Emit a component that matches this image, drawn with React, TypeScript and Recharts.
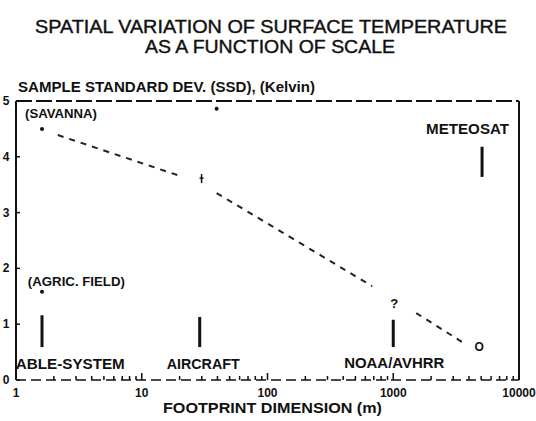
import { ComposedChart, XAxis, YAxis, Line, Scatter, ReferenceLine } from 'recharts';

// footprint dimension (m), log axis
const X_TICKS = [1, 10, 100, 1000, 10000];
const X_MINOR = [
  2, 3, 4, 5, 6, 7, 8, 9,
  20, 30, 40, 50, 60, 70, 80, 90,
  200, 300, 400, 500, 600, 700, 800, 900,
  2000, 3000, 4000, 5000, 6000, 7000, 8000, 9000,
];
const Y_TICKS = [0, 1, 2, 3, 4, 5];

// sample standard deviation (K)
const DOTS = [
  { x: 1.61, y: 4.5 },  // savanna
  { x: 1.61, y: 1.58 }, // agric. field
  { x: 39.4, y: 4.86 },
];
const TREND_A = [
  { x: 2.15, y: 4.39 },
  { x: 21.2, y: 3.64 },
];
const TREND_B = [
  { x: 39.4, y: 3.35 },
  { x: 681, y: 1.68 },
];
const TREND_C = [
  { x: 1523, y: 1.2 },
  { x: 3530, y: 0.68 },
];
const CROSS = [{ x: 29.9, y: 3.6 }];

// sensor range bars
const BARS = [
  { x: 1.61, from: 1.16, to: 0.59 },
  { x: 28.9, from: 1.13, to: 0.59 },
  { x: 1000, from: 1.08, to: 0.59 },
  { x: 5084, from: 4.18, to: 3.64 },
];

const LABELS = [
  { id: 'sav', x: 2.28, y: 4.78, text: '(SAVANNA)' },
  { id: 'met', x: 3900, y: 4.5, text: 'METEOSAT' },
  { id: 'agr', x: 3.02, y: 1.76, text: '(AGRIC. FIELD)' },
  { id: 'cab', x: 7.33, y: 0.29, text: 'CABLE-SYSTEM' },
  { id: 'air', x: 30.8, y: 0.29, text: 'AIRCRAFT' },
  { id: 'noa', x: 1018, y: 0.3, text: 'NOAA/AVHRR' },
  { id: 'q', x: 1018, y: 1.38, text: '?' },
  { id: 'o', x: 4815, y: 0.59, text: 'O' },
];

const LABEL_STYLE: Record<string, { size: number; len?: number; anchor?: string }> = {
  sav: { size: 13, len: 72 },
  met: { size: 14, len: 83 },
  agr: { size: 13, len: 97 },
  cab: { size: 14, len: 120, anchor: 'end' },
  air: { size: 14, len: 73 },
  noa: { size: 14, len: 100 },
  q: { size: 13 },
  o: { size: 12 },
};

const INK = '#111';
const FONT = '"Liberation Sans", Arial, Helvetica, sans-serif';

const XTick = (props: any) => {
  const { x, y, payload } = props;
  const major = X_TICKS.includes(payload.value);
  return (
    <g>
      <line x1={x} x2={x} y1={y} y2={y - (major ? 7 : 4)} stroke={INK} strokeWidth={1.5} />
      {major && (
        <text x={x} y={y + 17} textAnchor="middle" fontSize={12} fontWeight="bold" fill={INK} fontFamily={FONT}>
          {payload.value}
        </text>
      )}
    </g>
  );
};

const YTickLeft = (props: any) => {
  const { x, y, payload } = props;
  return (
    <g>
      <line x1={x} x2={x + 4} y1={y} y2={y} stroke={INK} strokeWidth={1.5} />
      <text x={x - 10} y={y + 4} textAnchor="middle" fontSize={12} fontWeight="bold" fill={INK} fontFamily={FONT}>
        {payload.value}
      </text>
    </g>
  );
};

const YTickRight = (props: any) => {
  const { x, y } = props;
  return <line x1={x} x2={x - 4} y1={y} y2={y} stroke={INK} strokeWidth={1.2} />;
};

const LabelShape = (props: any) => {
  const { cx, cy, payload } = props;
  const st = LABEL_STYLE[payload.id];
  return (
    <text
      x={cx}
      y={cy + st.size * 0.36}
      textAnchor={st.anchor || 'middle'}
      fontSize={st.size}
      fontWeight="bold"
      fill={INK}
      fontFamily={FONT}
      textLength={st.len}
      lengthAdjust={st.len ? 'spacingAndGlyphs' : undefined}
    >
      {payload.text}
    </text>
  );
};

const CrossShape = (props: any) => {
  const { cx, cy } = props;
  return (
    <g stroke={INK} strokeWidth={1.5}>
      <line x1={cx} x2={cx} y1={cy - 5} y2={cy + 4} />
      <line x1={cx - 2} x2={cx + 2} y1={cy - 1} y2={cy - 1} />
    </g>
  );
};

const DotShape = (props: any) => <circle cx={props.cx} cy={props.cy} r={2} fill={INK} />;

export default function App() {
  return (
    <div style={{ position: 'absolute', left: 0, top: 0, width: 536, height: 421, background: '#fff', fontFamily: FONT }}>
      <ComposedChart width={536} height={421} margin={{ top: 101, right: 0, bottom: 0, left: 0 }}>
        <XAxis
          type="number"
          dataKey="x"
          scale="log"
          domain={[1, 10000]}
          allowDataOverflow
          ticks={[...X_TICKS, ...X_MINOR]}
          interval={0}
          height={41}
          tickSize={0}
          tickMargin={0}
          tickLine={false}
          axisLine={{ stroke: INK, strokeWidth: 1.5, strokeDasharray: '10 5' }}
          tick={<XTick />}
        />
        <YAxis
          type="number"
          dataKey="y"
          domain={[0, 5]}
          ticks={Y_TICKS}
          interval={0}
          width={16}
          tickSize={0}
          tickMargin={0}
          tickLine={false}
          axisLine={{ stroke: INK, strokeWidth: 2 }}
          tick={<YTickLeft />}
        />
        <YAxis
          yAxisId="right"
          orientation="right"
          type="number"
          domain={[0, 5]}
          ticks={Y_TICKS}
          interval={0}
          width={17}
          tickSize={0}
          tickMargin={0}
          tickLine={false}
          axisLine={{ stroke: INK, strokeWidth: 2 }}
          tick={<YTickRight />}
        />
        <ReferenceLine y={5} stroke={INK} strokeWidth={2} strokeDasharray="16 4" />
        {BARS.map((b, i) => (
          <ReferenceLine
            key={i}
            segment={[
              { x: b.x, y: b.from },
              { x: b.x, y: b.to },
            ]}
            stroke={INK}
            strokeWidth={3}
          />
        ))}
        {[TREND_A, TREND_B, TREND_C].map((seg, i) => (
          <Line
            key={i}
            data={seg}
            dataKey="y"
            type="linear"
            stroke="#222"
            strokeWidth={2}
            strokeDasharray="6 6"
            dot={false}
            activeDot={false}
            isAnimationActive={false}
          />
        ))}
        <Scatter data={DOTS} dataKey="y" shape={<DotShape />} isAnimationActive={false} />
        <Scatter data={CROSS} dataKey="y" shape={<CrossShape />} isAnimationActive={false} />
        <Scatter data={LABELS} dataKey="y" shape={<LabelShape />} isAnimationActive={false} />
      </ComposedChart>
      <svg width={536} height={421} style={{ position: 'absolute', left: 0, top: 0, pointerEvents: 'none' }}>
        <g fill={INK} stroke={INK} strokeWidth={0.4} fontFamily={FONT} fontSize={18}>
          <text x={271} y={33} textAnchor="middle" textLength={472} lengthAdjust="spacingAndGlyphs">
            SPATIAL VARIATION OF SURFACE TEMPERATURE
          </text>
          <text x={270} y={53} textAnchor="middle" textLength={250} lengthAdjust="spacingAndGlyphs">
            AS A FUNCTION OF SCALE
          </text>
        </g>
        <text x={18} y={92} fontSize={14} fontWeight="bold" fill={INK} fontFamily={FONT} textLength={297} lengthAdjust="spacingAndGlyphs">
          SAMPLE STANDARD DEV. (SSD), (Kelvin)
        </text>
        <text x={163} y={413} fontSize={15} fontWeight="bold" fill={INK} fontFamily={FONT} textLength={219} lengthAdjust="spacingAndGlyphs">
          FOOTPRINT DIMENSION (m)
        </text>
      </svg>
    </div>
  );
}
